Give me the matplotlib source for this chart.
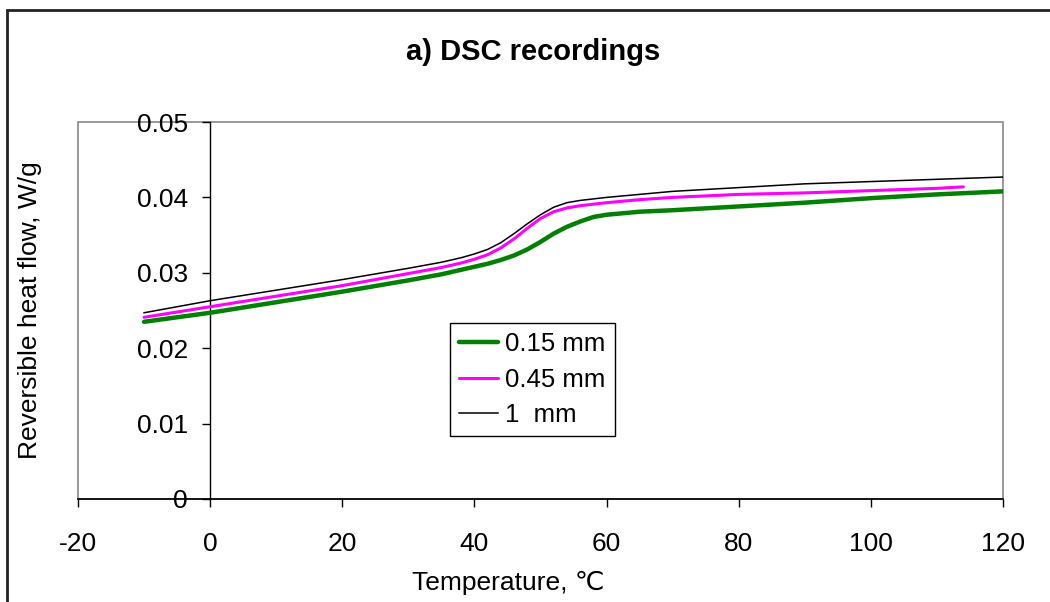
import matplotlib
matplotlib.use('Agg')
import matplotlib.pyplot as plt
from matplotlib.patches import Rectangle

plt.rcParams['font.family'] = ['Liberation Sans', 'DejaVu Sans']

# temperature (C) and reversible heat flow (W/g)
temp = [-10, 0, 10, 20, 30, 35, 38, 40, 42, 44, 46, 48, 50, 52, 54, 56, 58, 60,
        65, 70, 80, 90, 100, 110, 120]
flow_015 = [0.0235, 0.0247, 0.0261, 0.0275, 0.0290, 0.0298, 0.0304, 0.0308,
            0.0312, 0.0317, 0.0323, 0.0331, 0.0341, 0.0352, 0.0361, 0.0368,
            0.0374, 0.0377, 0.0381, 0.0383, 0.0388, 0.0393, 0.0399, 0.0404,
            0.0408]
flow_1 = [0.0247, 0.0263, 0.0277, 0.0291, 0.0306, 0.0314, 0.0320, 0.0325,
          0.0331, 0.0340, 0.0352, 0.0365, 0.0377, 0.0387, 0.0393, 0.0396,
          0.0398, 0.0400, 0.0404, 0.0408, 0.0413, 0.0418, 0.0421, 0.0424,
          0.0427]
temp_045 = [-10, 0, 10, 20, 30, 35, 38, 40, 42, 44, 46, 48, 50, 52, 54, 56, 58,
            60, 65, 70, 80, 90, 100, 110, 114]
flow_045 = [0.0241, 0.0255, 0.0269, 0.0283, 0.0299, 0.0307, 0.0313, 0.0318,
            0.0324, 0.0333, 0.0345, 0.0359, 0.0372, 0.0381, 0.0386, 0.0389,
            0.0391, 0.0393, 0.0397, 0.0400, 0.0404, 0.0406, 0.0409, 0.0412,
            0.0414]

labels = ['0.15 mm', '0.45 mm', '1  mm']
xticks = [-20, 0, 20, 40, 60, 80, 100, 120]
yticks = [0, 0.01, 0.02, 0.03, 0.04, 0.05]
ytick_labels = ['0', '0.01', '0.02', '0.03', '0.04', '0.05']

fs = 19
fig = plt.figure(figsize=(10.5, 6.02), dpi=100)
ax = fig.add_axes([78 / 1050, 1 - 499 / 602, 925 / 1050, 377 / 602])

ax.plot(temp, flow_015, color='#008000', lw=3.2, label=labels[0], solid_capstyle='round')
ax.plot(temp_045, flow_045, color='#FF00FF', lw=2.2, label=labels[1], solid_capstyle='round')
ax.plot(temp, flow_1, color='black', lw=1.1, label=labels[2])

ax.set_xlim(-20, 120)
ax.set_ylim(0, 0.05)
ax.set_xticks(xticks)
ax.set_xticklabels([str(t) for t in xticks])
ax.set_yticks(yticks)
ax.set_yticklabels(ytick_labels)

# Excel-like frame: grey box, value axis crossing at 0
ax.patch.set_edgecolor('#888888')
ax.patch.set_linewidth(1.2)
ax.spines['top'].set_visible(False)
ax.spines['right'].set_visible(False)
ax.spines['left'].set_position(('data', 0))
ax.spines['left'].set_linewidth(1.0)
ax.spines['bottom'].set_linewidth(1.2)
ax.spines['left'].set_zorder(1)

ax.tick_params(axis='y', direction='out', length=6, width=1, pad=10, labelsize=fs)
ax.tick_params(axis='x', direction='out', length=6, width=1, pad=18, labelsize=fs)

fig.text(30 / 1050, 1 - 310 / 602, 'Reversible heat flow, W/g', rotation=90,
         ha='center', va='center', fontsize=fs)
fig.text(508 / 1050, 1 - 583 / 602, 'Temperature, \u2103', ha='center',
         va='center', fontsize=fs)
fig.text(533 / 1050, 1 - 52 / 602, 'a) DSC recordings', ha='center',
         va='center', fontsize=21, fontweight='bold')

leg = ax.legend(loc='upper left', bbox_to_anchor=((450 - 78) / 925, (499 - 323) / 377),
                fontsize=18.5, frameon=True, fancybox=False, framealpha=1,
                edgecolor='black', handlelength=1.5, handletextpad=0.3,
                labelspacing=0.45, borderpad=0.35, borderaxespad=0)
leg.get_frame().set_linewidth(1.0)

# outer chart border (left and top visible in the crop)
fig.patches.append(Rectangle((7 / 1050, -0.5), 2.0, 1.5 - 10 / 602,
                             transform=fig.transFigure, fill=False,
                             edgecolor='#222222', lw=2.0, clip_on=False))

fig.savefig('out.png', dpi=100)
